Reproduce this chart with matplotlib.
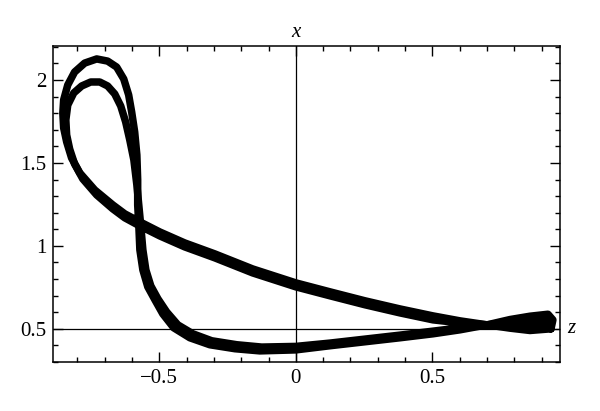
import matplotlib
matplotlib.use("Agg")
import matplotlib.pyplot as plt
from matplotlib.ticker import FixedLocator, MultipleLocator

# Traced trajectory, loop 1 (outer top lobe): z values and x values
loop1_z = [0.934, 0.857, 0.784, 0.700, 0.601, 0.502, 0.381, 0.253, 0.125, 0.000,
           -0.158, -0.297, -0.407, -0.498, -0.571, -0.626, -0.670, -0.736, -0.791,
           -0.821, -0.839, -0.850, -0.853, -0.850, -0.835, -0.810, -0.773, -0.729,
           -0.689, -0.656, -0.630, -0.612, -0.601, -0.590, -0.582, -0.579, -0.579,
           -0.575, -0.571, -0.560, -0.542, -0.516, -0.487, -0.447, -0.388, -0.315,
           -0.223, -0.132, 0.000, 0.125, 0.253, 0.381, 0.502, 0.601, 0.700, 0.784,
           0.857, 0.923, 0.941, 0.934]
loop1_x = [0.500, 0.490, 0.504, 0.524, 0.548, 0.578, 0.620, 0.669, 0.723, 0.777,
           0.861, 0.952, 1.018, 1.084, 1.145, 1.193, 1.247, 1.337, 1.440,
           1.530, 1.627, 1.711, 1.801, 1.880, 1.970, 2.048, 2.102, 2.127,
           2.114, 2.078, 2.006, 1.910, 1.807, 1.687, 1.548, 1.398, 1.247,
           1.127, 0.976, 0.855, 0.753, 0.675, 0.590, 0.506, 0.446, 0.404,
           0.380, 0.367, 0.373, 0.398, 0.422, 0.446, 0.470, 0.494, 0.524, 0.556,
           0.576, 0.588, 0.554, 0.500]

# Loop 2 (inner top lobe)
loop2_z = [0.927, 0.857, 0.784, 0.700, 0.601, 0.502, 0.381, 0.253, 0.125, 0.000,
           -0.158, -0.297, -0.407, -0.498, -0.571, -0.626, -0.670, -0.729, -0.780,
           -0.810, -0.828, -0.839, -0.842, -0.835, -0.813, -0.784, -0.751, -0.718,
           -0.689, -0.663, -0.641, -0.623, -0.608, -0.593, -0.582, -0.575, -0.568,
           -0.560, -0.549, -0.531, -0.505, -0.473, -0.432, -0.377, -0.308, -0.216,
           -0.125, 0.000, 0.125, 0.253, 0.381, 0.502, 0.601, 0.700, 0.784, 0.857,
           0.916, 0.930, 0.927]
loop2_x = [0.520, 0.518, 0.524, 0.524, 0.536, 0.554, 0.596, 0.645, 0.699, 0.753,
           0.837, 0.928, 0.994, 1.060, 1.120, 1.169, 1.223, 1.307, 1.404,
           1.494, 1.584, 1.669, 1.759, 1.849, 1.922, 1.964, 1.988, 1.988,
           1.964, 1.916, 1.843, 1.747, 1.639, 1.518, 1.367, 1.247, 1.127,
           0.976, 0.855, 0.759, 0.681, 0.602, 0.524, 0.470, 0.428, 0.404,
           0.390, 0.394, 0.414, 0.438, 0.462, 0.486, 0.506, 0.524, 0.538, 0.546,
           0.550, 0.536, 0.520]

xticks_major = [-0.5, 0, 0.5]
xtick_labels = ["\u22120.5", "0", "0.5"]
yticks_major = [0.5, 1, 1.5, 2]
ytick_labels = ["0.5", "1", "1.5", "2"]

plt.rcParams['font.family'] = ['Liberation Serif', 'DejaVu Serif']

fig = plt.figure(figsize=(6, 4.11), dpi=100)
ax = fig.add_axes([53/600, 49/411, 507/600, 316/411])
ax.set_xlim(-0.889, 0.967)
ax.set_ylim(0.30, 2.205)

for zz, xx in [(loop1_z, loop1_x), (loop2_z, loop2_x)]:
    ax.plot(zz, xx, color='black', lw=5.4, solid_joinstyle='round',
            solid_capstyle='round', zorder=3)

ax.axvline(0, color='black', lw=0.9, zorder=2)
ax.axhline(0.5, color='black', lw=0.9, zorder=2)

ax.xaxis.set_major_locator(FixedLocator(xticks_major))
ax.set_xticklabels(xtick_labels)
ax.yaxis.set_major_locator(FixedLocator(yticks_major))
ax.set_yticklabels(ytick_labels)
ax.xaxis.set_minor_locator(MultipleLocator(0.1))
ax.yaxis.set_minor_locator(MultipleLocator(0.1))
ax.tick_params(which='both', direction='in', top=True, right=True, width=1.0, labelsize=15)
ax.tick_params(which='major', length=7)
ax.tick_params(which='minor', length=3.6)
ax.tick_params(axis='x', pad=5)
ax.tick_params(axis='y', pad=5)
for s in ax.spines.values():
    s.set_linewidth(1.1)

ax.text(0, 1.012, 'x', transform=ax.get_xaxis_transform(), ha='center', va='bottom',
        fontsize=15, style='italic')
ax.text(1.015, 0.5, 'z', transform=ax.get_yaxis_transform(), ha='left', va='center',
        fontsize=15, style='italic')

fig.savefig('out.png', dpi=100)
